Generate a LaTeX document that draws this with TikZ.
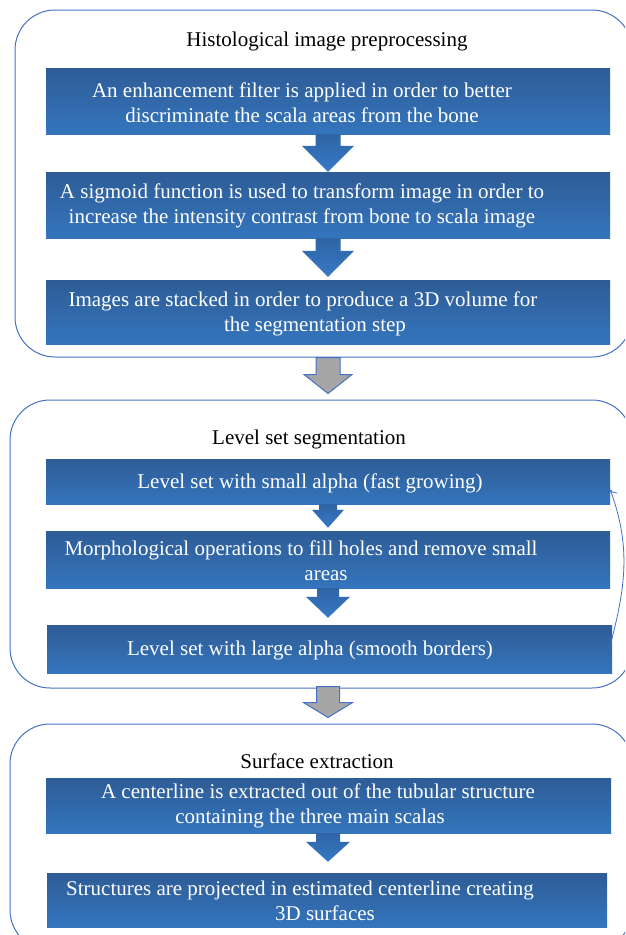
\documentclass[tikz,border=0pt]{standalone}
\usepackage{fontspec}
\setmainfont{Liberation Serif}
\usetikzlibrary{arrows.meta,calc}

\definecolor{frameblue}{RGB}{68,114,196}
\definecolor{boxtop}{RGB}{46,92,150}
\definecolor{boxbot}{RGB}{52,117,189}
\definecolor{arrowtop}{RGB}{47,100,166}
\definecolor{arrowbot}{RGB}{55,121,196}
\definecolor{arrowgray}{RGB}{166,166,166}

\tikzset{
  stage/.style={draw=frameblue, line width=1pt, rounded corners=40pt, fill=white, inner sep=0pt},
  stagetitle/.style={font=\fontsize{21}{25}\selectfont, inner sep=0pt},
  stepbox/.style={top color=boxtop, bottom color=boxbot, minimum width=564pt, inner sep=0pt},
  steptext/.style={text=white, align=center, font=\fontsize{21}{25}\selectfont, inner sep=0pt},
  barrow/.style={top color=arrowtop, bottom color=arrowbot},
  garrow/.style={fill=arrowgray, draw=frameblue, line width=1pt},
  loopback/.style={draw=frameblue, line width=0.8pt, -{To[length=6pt,width=11pt]}}
}

% block arrow pointing down: style, top point, tip point, half shaft, half head, head length
\newcommand{\blockarrow}[6]{%
  \path[#1] let \p1=(#2), \p2=(#3) in
    (328pt-#4pt,\y1) -- (328pt+#4pt,\y1) -- (328pt+#4pt,\y2+#6pt) -- (328pt+#5pt,\y2+#6pt)
    -- (328pt,\y2) -- (328pt-#5pt,\y2+#6pt) -- (328pt-#4pt,\y2+#6pt) -- cycle;}

\begin{document}
\begin{tikzpicture}[x=1pt,y=-1pt]
  \useasboundingbox (0,0) rectangle (625,935);
  \clip (0,0) rectangle (625,935);

  % stages
  \node[stage, minimum width=617pt, minimum height=347pt] (s1) at (323.5,183.5) {};
  \node[stage, minimum width=622pt, minimum height=288pt] (s2) at (321,544) {};
  \node[stage, minimum width=622pt, minimum height=226pt] (s3) at (321,837) {};

  \node[stagetitle] (h1) at (327,41) {Histological image preprocessing};
  \node[stagetitle] (h2) at (309,439) {Level set segmentation};
  \node[stagetitle] (h3) at (317,761) {Surface extraction};

  % steps
  \node[stepbox, minimum height=66pt] (r1) at (328,101) {};
  \node[stepbox, minimum height=66pt] (r2) at (328,205) {};
  \node[stepbox, minimum height=64pt] (r3) at (328,312) {};
  \node[stepbox, minimum height=45pt] (r4) at (328,481.5) {};
  \node[stepbox, minimum height=57pt] (r5) at (328,559.5) {};
  \node[stepbox, minimum width=565pt, minimum height=48pt] (r6) at (329.5,649) {};
  \node[stepbox, minimum width=565pt, minimum height=55pt] (r7) at (328.5,805.5) {};
  \node[stepbox, minimum width=560pt, minimum height=54pt] (r8) at (327,900) {};

  \node[steptext] (t1) at (302,103) {An enhancement filter is applied in order to better\\discriminate the scala areas from the bone};
  \node[steptext] (t2) at (302,206) {A sigmoid function is used to transform image in order to\\increase the intensity contrast from bone to scala image};
  \node[steptext] (t3) at (303,314) {Images are stacked in order to produce a 3D volume for\\\hspace*{24pt}the segmentation step};
  \node[steptext] (t4) at (310,483) {Level set with small alpha (fast growing)};
  \node[steptext] (t5) at (301,561) {Morphological operations to fill holes and remove small\\\hspace*{50pt}areas};
  \node[steptext] (t6) at (310,650) {Level set with large alpha (smooth borders)};
  \node[steptext] (t7) at (318,806) {A centerline is extracted out of the tubular structure\\\hspace*{-16pt}containing the three main scalas};
  \node[steptext] (t8) at (300,901) {Structures are projected in estimated centerline creating\\\hspace*{50pt}3D surfaces};

  % arrows
  \blockarrow{barrow}{r1.south}{r2.north}{12.5}{26}{26}
  \blockarrow{barrow}{r2.south}{[yshift=3]r3.north}{12.5}{26}{26}
  \blockarrow{barrow}{r4.south}{[yshift=3]r5.north}{9}{16}{18}
  \blockarrow{barrow}{r5.south}{[yshift=7]r6.north}{11}{22}{21}
  \blockarrow{barrow}{r7.south}{[yshift=11]r8.north}{12}{22}{20}
  \blockarrow{garrow}{s1.south}{[yshift=6]s2.north}{12}{24}{19}
  \blockarrow{garrow}{[yshift=2]s2.south}{[yshift=6]s3.north}{11.5}{24.5}{15}

  \draw[loopback] ([xshift=-3]r6.east) to[out=75,in=-70] ([yshift=-8]r4.east);
\end{tikzpicture}
\end{document}
